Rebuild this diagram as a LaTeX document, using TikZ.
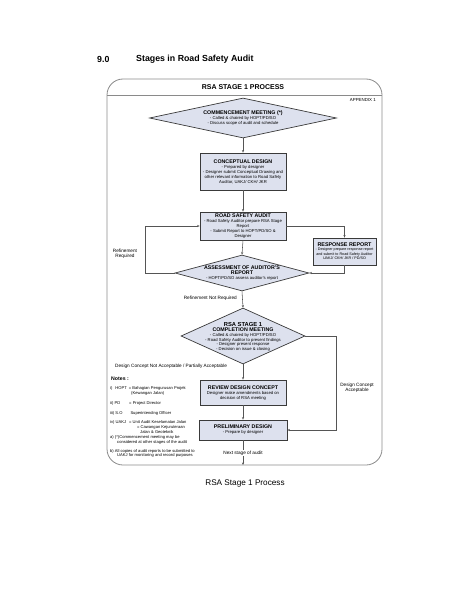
\documentclass[tikz,border=0pt]{standalone}
\usepackage{fontspec}
\setmainfont{Liberation Sans}
\usetikzlibrary{shapes.geometric,arrows.meta}
\definecolor{bfill}{HTML}{DDE1EE}
\definecolor{bline}{HTML}{3A3A3A}
\definecolor{fline}{HTML}{8A8A8A}
\definecolor{cline}{HTML}{555555}
\newcommand{\tbx}[1]{{\fontsize{5.3}{6}\selectfont\bfseries #1}}
\begin{document}
\begin{tikzpicture}[x=1pt,y=-1pt,
  boxst/.style={draw=bline, fill=bfill, line width=0.7pt, inner sep=0pt},
  diast/.style={diamond, draw=bline, fill=bfill, line width=0.7pt, inner sep=0pt},
  sm/.style={font=\fontsize{4.2}{4.9}\selectfont, align=center, inner sep=0pt},
  lab/.style={font=\fontsize{4.7}{5.4}\selectfont, align=center, inner sep=0pt},
  note/.style={font=\fontsize{4.1}{4.7}\selectfont, align=left, inner sep=0pt, anchor=west},
  conn/.style={draw=cline, line width=0.55pt, -{Stealth[length=2.6pt,width=2.2pt]}},
  frame/.style={draw=fline, line width=0.8pt}
]
\useasboundingbox (0,0) rectangle (463,599);
% heading
\node[font=\fontsize{8.8}{10}\selectfont\bfseries, anchor=west, inner sep=0pt] (secno) at (97,59) {9.0};
\node[font=\fontsize{8.8}{10}\selectfont\bfseries, anchor=west, inner sep=0pt] (sectitle) at (136,59) {Stages in Road Safety Audit};
% frame
\draw[frame, rounded corners=16pt] (107,79) rectangle (382,465);
\draw[frame] (107,95) -- (382,95);
\node[font=\fontsize{7}{8}\selectfont\bfseries, inner sep=0pt] (hdr) at (243,87) {RSA STAGE 1 PROCESS};
\node[font=\fontsize{4.4}{5}\selectfont, anchor=east, inner sep=0pt] (appx) at (376,100) {APPENDIX 1};
% shapes
\node[diast, minimum width=187pt, minimum height=40pt] (cm) at (243,118) {};
\node[sm] (cmt) at (243,118) {\tbx{COMMENCEMENT MEETING (*)}\\- Called \& chaired by HOPT/PD/SO\\- Discuss scope of audit and schedule};
\node[boxst, minimum width=86pt, minimum height=37pt] (cd) at (243,171.5) {};
\node[sm] (cdt) at (243,172) {\tbx{CONCEPTUAL DESIGN}\\- Prepared by designer\\- Designer submit Conceptual Drawing and\\other relevant information to Road Safety\\Auditor, UAKJ/ CKH/ JKR};
\node[boxst, minimum width=86pt, minimum height=28pt] (rsa) at (243,226) {};
\node[sm] (rsat) at (243,226) {\tbx{ROAD SAFETY AUDIT}\\- Road Safety Auditor prepare RSA Stage\\Report\\- Submit Report to HOPT/PD/SO \&\\Designer};
\node[boxst, minimum width=63pt, minimum height=27pt] (resp) at (344.5,251.5) {};
\node[sm, font=\fontsize{3.7}{4.4}\selectfont] (respt) at (344.5,251) {{\fontsize{5.4}{6.4}\selectfont\bfseries RESPONSE REPORT}\\- Designer prepare response report\\and submit to Road Safety Auditor\\UAKJ/ CKH/ JKR / PD/SO};
\node[diast, minimum width=134pt, minimum height=36pt] (as) at (242,273) {};
\node[sm] (ast) at (242,273) {{\fontsize{5.3}{6}\selectfont\bfseries ASSESSMENT OF AUDITOR'S}\\{\fontsize{5.3}{6}\selectfont\bfseries REPORT}\\- HOPT/PD/SO assess auditor's report};
\node[diast, minimum width=124pt, minimum height=56pt] (s1) at (243,336) {};
\node[sm] (s1t) at (243,337) {{\fontsize{5.8}{6.6}\selectfont\bfseries RSA STAGE 1}\\\tbx{COMPLETION MEETING}\\- Called \& chaired by HOPT/PD/SO\\- Road Safety Auditor to present findings\\- Designer present response\\- Decision on issue \& closing};
\node[boxst, minimum width=86pt, minimum height=25pt] (rev) at (243,392.5) {};
\node[sm] (revt) at (243,393) {\tbx{REVIEW DESIGN CONCEPT}\\Designer make amendments based on\\decision of RSA meeting};
\node[boxst, minimum width=88pt, minimum height=20pt] (pd) at (243,430) {};
\node[sm] (pdt) at (243,430) {\tbx{PRELIMINARY DESIGN}\\- Prepare by designer};
% coordinates
\coordinate (lk) at (145,273);
\coordinate (rk) at (336,336);
\coordinate (nx) at (243,465);
% connectors
\draw[conn] (cm.south) -- (cd.north);
\draw[conn] (cd.south) -- (rsa.north);
\draw[conn] (rsa.east) -| (resp.north);
\draw[conn] (resp.south) |- (as.east);
\draw[conn] (rsa.south) -- (as.north);
\draw[conn] (as.west) -- (lk) |- (rsa.west);
\draw[conn] (as.south) -- (s1.north);
\draw[conn] (s1.east) -- (rk) |- (pd.east);
\draw[conn] (s1.south) -- (rev.north);
\draw[conn] (rev.south) -- (pd.north);
\draw[conn] (pd.south) -- (nx);
% labels
\node[lab] (lrr) at (125,254) {Refinement\\Required};
\node[lab, anchor=east] (lnr) at (237,298) {Refinement Not Required};
\node[lab] (lda) at (357,388) {Design Concept\\Acceptable};
\node[lab, anchor=west] (ldn) at (115,366) {Design Concept Not Acceptable / Partially Acceptable};
\node[lab, fill=white, inner sep=1pt] (lnx) at (243,453) {Next stage of audit};
% notes
\node[note, font=\fontsize{5.2}{6}\selectfont\bfseries] (n0) at (111,379) {Notes :};
\node[note] (n1) at (110,388) {i)\hspace{3pt}HOPT\hspace{2pt}= Bahagian Pengurusan Projek};
\node[note] (n1b) at (131,393) {(Kewangan Jalan)};
\node[note] (n2) at (110,403) {ii) PD\hspace{9pt}= Project Director};
\node[note] (n3) at (110,413) {iii) S.O\hspace{8pt}Superintending Officer};
\node[note] (n4) at (110,427) {iv) UAKJ\hspace{3pt}= Unit Audit Keselamatan Jalan\\\hspace{27pt}= Cawangan Kejuruteraan\\\hspace{30pt}Jalan \& Geoteknik};
\node[note] (n5) at (110,440) {a) (*)Commencement meeting may be\\\hspace{7pt}considered at other stages of the audit};
\node[note] (n6) at (110,453.5) {b) All copies of audit reports to be submitted to\\\hspace{7pt}UAKJ for monitoring and record purposes};
% caption
\node[font=\fontsize{8.2}{9.5}\selectfont, inner sep=0pt] (cap) at (245,483) {RSA Stage 1 Process};
\end{tikzpicture}
\end{document}
